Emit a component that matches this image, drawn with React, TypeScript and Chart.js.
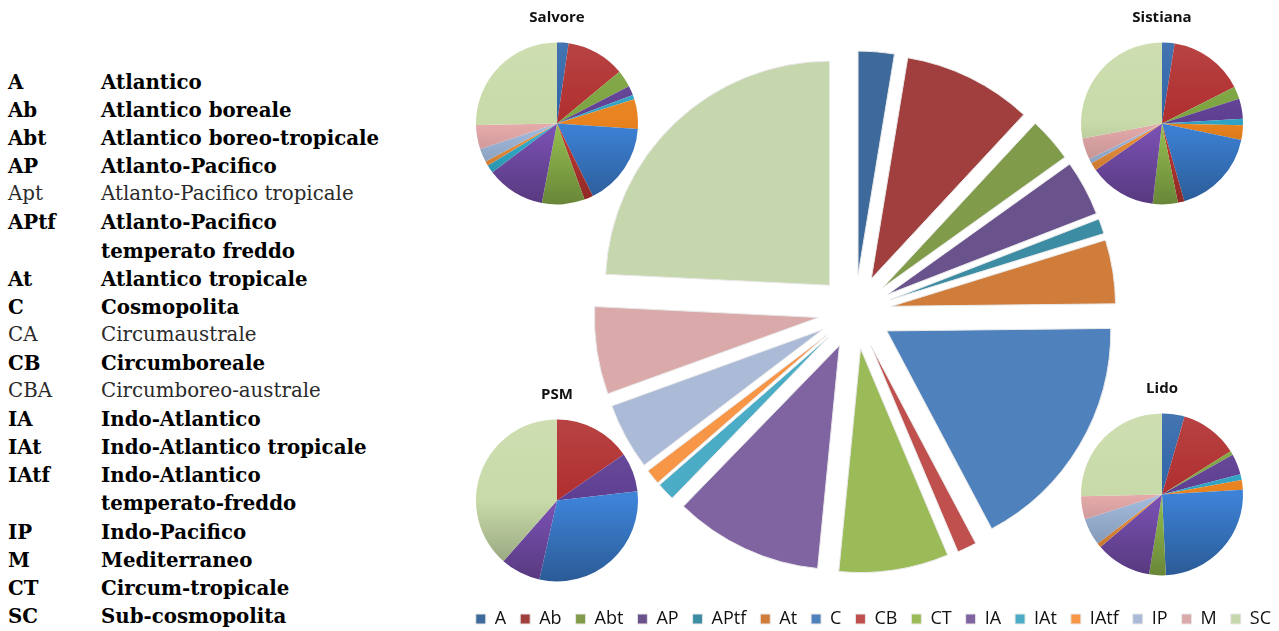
import React, { useEffect, useRef } from 'react';
import { Chart, registerables } from 'chart.js';

Chart.register(...registerables);

// ---------------- DATA ----------------
const categories = ['A', 'Ab', 'Abt', 'AP', 'APtf', 'At', 'C', 'CB', 'CT', 'IA', 'IAt', 'IAtf', 'IP', 'M', 'SC'];

// Total (large exploded pie), % of species
const totalValues = [2.6, 9.3, 3.2, 4.0, 1.1, 4.6, 17.4, 1.4, 7.9, 10.7, 1.3, 1.1, 4.8, 6.3, 24.2];
const salvoreValues = [2.3, 11.7, 3.4, 1.9, 0.9, 5.9, 16.6, 1.8, 8.5, 11.7, 1.6, 0.9, 2.7, 4.8, 25.3];
const sistianaValues = [2.5, 15.1, 2.5, 4.0, 1.3, 2.9, 17.3, 1.3, 5.0, 13.4, 0, 1.6, 0.9, 4.3, 28.0];
const psmValues = [0, 15.4, 0, 7.8, 0, 0, 30.3, 0, 0, 8.0, 0, 0, 0, 0, 38.5];
const lidoValues = [4.5, 11.6, 0.8, 4.1, 1.2, 1.9, 25.2, 0, 3.3, 11.2, 0, 0.9, 5.4, 4.6, 25.4];

const glossaryCodes = ['A', 'Ab', 'Abt', 'AP', 'Apt', 'APtf', 'At', 'C', 'CA', 'CB', 'CBA', 'IA', 'IAt', 'IAtf', 'IP', 'M', 'CT', 'SC'];
const glossaryNames = [
  'Atlantico',
  'Atlantico boreale',
  'Atlantico boreo-tropicale',
  'Atlanto-Pacifico',
  'Atlanto-Pacifico tropicale',
  'Atlanto-Pacifico\ntemperato freddo',
  'Atlantico tropicale',
  'Cosmopolita',
  'Circumaustrale',
  'Circumboreale',
  'Circumboreo-australe',
  'Indo-Atlantico',
  'Indo-Atlantico tropicale',
  'Indo-Atlantico\ntemperato-freddo',
  'Indo-Pacifico',
  'Mediterraneo',
  'Circum-tropicale',
  'Sub-cosmopolita',
];

// ---------------- STYLE ----------------
const bigColors = [
  '#3D6A9B', '#A03F3E', '#809C4B', '#6A528C', '#3C8DA4', '#D07C3A',
  '#4F81BD', '#C0504D', '#9BBB59', '#8064A2', '#4BACC6', '#F79646',
  '#AABAD7', '#D9AAA9', '#C6D6AD',
];
const smallColors = [
  '#2F64A8', '#B02E2E', '#7BA33E', '#5E3E92', '#2FA3C3', '#E8821E',
  '#3D82D6', '#C83A35', '#96C050', '#7C52B5', '#35B5D5', '#F5943C',
  '#A4BDE0', '#E6ABAB', '#C8DAA8',
];

const SMALL_R = 81;

function shade(hex: string, amt: number): string {
  const n = parseInt(hex.slice(1), 16);
  let r = (n >> 16) & 255, g = (n >> 8) & 255, b = n & 255;
  const t = amt < 0 ? 0 : 255;
  const p = Math.abs(amt);
  r = Math.round((t - r) * p + r);
  g = Math.round((t - g) * p + g);
  b = Math.round((t - b) * p + b);
  return `rgb(${r},${g},${b})`;
}

const explodePlugin = {
  id: 'explode',
  afterDatasetUpdate(chart: any, args: any, opts: any) {
    const d = (opts && opts.distance) || 0;
    if (!d) return;
    args.meta.data.forEach((arc: any) => {
      const half = (arc.startAngle + arc.endAngle) / 2;
      arc.x += Math.cos(half) * d;
      arc.y += Math.sin(half) * d;
    });
  },
};

function useChart(ref: React.RefObject<HTMLCanvasElement>, makeConfig: () => any) {
  useEffect(() => {
    if (!ref.current) return;
    const chart = new Chart(ref.current, makeConfig());
    return () => chart.destroy();
  }, []);
}

function BigPie() {
  const ref = useRef<HTMLCanvasElement>(null);
  useChart(ref, () => ({
    type: 'pie',
    data: {
      labels: categories,
      datasets: [
        {
          data: totalValues,
          backgroundColor: bigColors,
          borderColor: '#e8e8e8',
          borderWidth: 1,
          clip: false,
        },
      ],
    },
    options: {
      responsive: false,
      animation: false,
      radius: 224,
      layout: { padding: { top: 28, bottom: 0, left: 0, right: 0 } },
      plugins: {
        explode: { distance: 37 },
        tooltip: { enabled: false },
        legend: {
          position: 'bottom',
          align: 'end',
          labels: {
            boxWidth: 10,
            boxHeight: 10,
            padding: 14,
            color: '#111',
            font: { family: 'Open Sans', size: 18 },
          },
        },
      },
    },
    plugins: [explodePlugin],
  }));
  return (
    <canvas
      ref={ref}
      width={860}
      height={638}
      style={{ position: 'absolute', left: 425, top: 0, width: 860, height: 638 }}
    />
  );
}

function SmallPie(props: { title: string; values: number[]; cx: number; cy: number }) {
  const ref = useRef<HTMLCanvasElement>(null);
  const W = 200;
  const H = 217;
  useChart(ref, () => ({
    type: 'pie',
    data: {
      labels: categories,
      datasets: [
        {
          data: props.values,
          borderWidth: 0,
          clip: false,
          backgroundColor: (ctx: any) => {
            const base = smallColors[ctx.dataIndex % smallColors.length];
            const area = ctx.chart.chartArea;
            if (!area) return base;
            const mid = (area.top + area.bottom) / 2;
            const g = ctx.chart.ctx.createLinearGradient(0, mid - SMALL_R, 0, mid + SMALL_R);
            g.addColorStop(0, shade(base, 0.1));
            g.addColorStop(0.5, base);
            g.addColorStop(1, shade(base, -0.3));
            return g;
          },
        },
      ],
    },
    options: {
      responsive: false,
      animation: false,
      radius: SMALL_R,
      layout: { padding: 0 },
      plugins: {
        legend: { display: false },
        tooltip: { enabled: false },
        title: {
          display: true,
          text: props.title,
          color: '#111',
          font: { family: 'Open Sans', size: 15, weight: 'bold', lineHeight: 1.2 },
          padding: { top: 9, bottom: 2.8 },
        },
      },
    },
  }));
  return (
    <canvas
      ref={ref}
      width={W}
      height={H}
      style={{ position: 'absolute', left: props.cx - W / 2, top: props.cy - 123.4, width: W, height: H }}
    />
  );
}

function Glossary() {
  return (
    <div
      style={{
        position: 'absolute',
        left: 8,
        top: 68,
        fontFamily: '"DejaVu Serif", serif',
        fontSize: 19.8,
        lineHeight: '28.1px',
      }}
    >
      {glossaryCodes.map((code, i) => {
        const bold = categories.includes(code);
        return (
          <div
            key={code}
            style={{
              display: 'flex',
              fontWeight: bold ? 'bold' : 'normal',
              color: bold ? '#000' : '#2a2a2a',
              whiteSpace: 'pre-line',
            }}
          >
            <div style={{ width: 93, flex: 'none' }}>{code}</div>
            <div>{glossaryNames[i]}</div>
          </div>
        );
      })}
    </div>
  );
}

export default function App() {
  return (
    <div
      style={{
        position: 'absolute',
        left: 0,
        top: 0,
        width: 1279,
        height: 631,
        overflow: 'hidden',
        background: '#fff',
      }}
    >
      <Glossary />
      <BigPie />
      <SmallPie title="Salvore" values={salvoreValues} cx={556.5} cy={123.5} />
      <SmallPie title="Sistiana" values={sistianaValues} cx={1162.3} cy={123.4} />
      <SmallPie title="PSM" values={psmValues} cx={556.5} cy={500.5} />
      <SmallPie title="Lido" values={lidoValues} cx={1162.3} cy={494.7} />
    </div>
  );
}
